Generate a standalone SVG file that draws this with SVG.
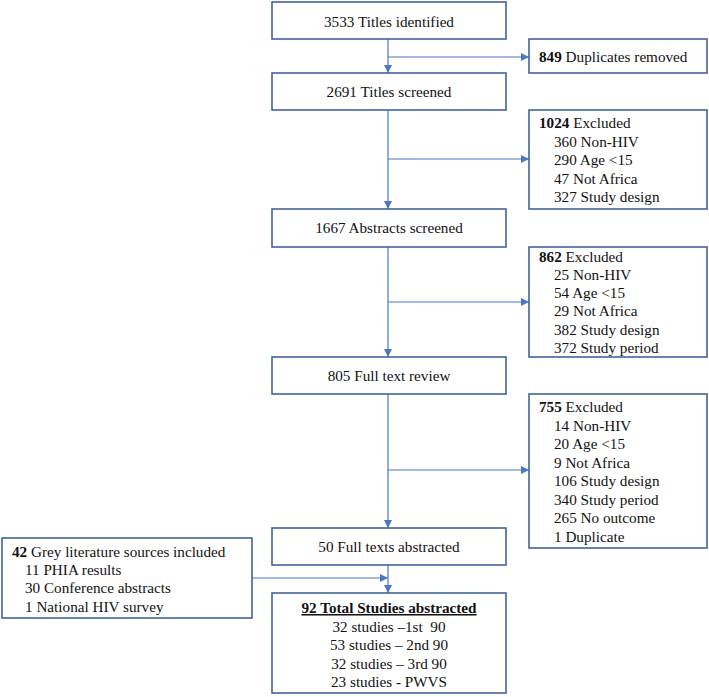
<svg xmlns="http://www.w3.org/2000/svg" width="709" height="697" viewBox="0 0 709 697" font-family="'Liberation Serif', 'DejaVu Serif', serif">
<style>
  .box { fill: #ffffff; stroke: #41639b; stroke-width: 1.6; }
  .t { font-family: 'Liberation Serif', 'DejaVu Serif', serif; font-size: 15.2px; fill: #111111; }
  .c { text-anchor: middle; }
  .b { font-weight: bold; }
  .conn { fill: none; stroke: #4a76c4; stroke-width: 1.2; }
</style>
<defs>
  <marker id="ah" viewBox="0 0 10 10" refX="10" refY="5" markerWidth="8" markerHeight="8" markerUnits="userSpaceOnUse" orient="auto">
    <path d="M0,0 L10,5 L0,10 z" fill="#4a76c4"/>
  </marker>
</defs>
<rect width="709" height="697" fill="#ffffff"/>

<g id="connectors">
  <path class="conn" d="M388,39 V73" marker-end="url(#ah)"/>
  <path class="conn" d="M388,57 H529" marker-end="url(#ah)"/>
  <path class="conn" d="M388,110 V209" marker-end="url(#ah)"/>
  <path class="conn" d="M388,159 H529" marker-end="url(#ah)"/>
  <path class="conn" d="M388,247 V357" marker-end="url(#ah)"/>
  <path class="conn" d="M388,302 H529" marker-end="url(#ah)"/>
  <path class="conn" d="M388,394 V528" marker-end="url(#ah)"/>
  <path class="conn" d="M388,470 H529" marker-end="url(#ah)"/>
  <path class="conn" d="M388,565 V593" marker-end="url(#ah)"/>
  <path class="conn" d="M252,578 H388" marker-end="url(#ah)"/>
</g>

<g id="n-identified">
  <rect class="box" x="272" y="2" width="234" height="37"/>
  <text class="t c" x="389" y="27">3533 Titles identified</text>
</g>
<g id="n-duplicates">
  <rect class="box" x="529" y="39" width="178" height="34"/>
  <text class="t" x="539" y="62"><tspan class="b">849</tspan> Duplicates removed</text>
</g>
<g id="n-titles">
  <rect class="box" x="272" y="73" width="234" height="37"/>
  <text class="t c" x="389" y="97">2691 Titles screened</text>
</g>
<g id="n-excl1">
  <rect class="box" x="529" y="110" width="178" height="99"/>
  <text class="t" x="539" y="128"><tspan class="b">1024</tspan> Excluded</text>
  <text class="t" x="554" y="146.5">360 Non-HIV</text>
  <text class="t" x="554" y="165">290 Age &lt;15</text>
  <text class="t" x="554" y="183.5">47 Not Africa</text>
  <text class="t" x="554" y="202">327 Study design</text>
</g>
<g id="n-abstracts">
  <rect class="box" x="272" y="209" width="234" height="38"/>
  <text class="t c" x="389" y="233">1667 Abstracts screened</text>
</g>
<g id="n-excl2">
  <rect class="box" x="529" y="247" width="178" height="110"/>
  <text class="t" x="539" y="261.5"><tspan class="b">862</tspan> Excluded</text>
  <text class="t" x="554" y="279.8">25 Non-HIV</text>
  <text class="t" x="554" y="298.1">54 Age &lt;15</text>
  <text class="t" x="554" y="316.4">29 Not Africa</text>
  <text class="t" x="554" y="334.7">382 Study design</text>
  <text class="t" x="554" y="353">372 Study period</text>
</g>
<g id="n-fulltext">
  <rect class="box" x="272" y="357" width="234" height="37"/>
  <text class="t c" x="389" y="381">805 Full text review</text>
</g>
<g id="n-excl3">
  <rect class="box" x="529" y="394" width="178" height="154"/>
  <text class="t" x="539" y="412"><tspan class="b">755</tspan> Excluded</text>
  <text class="t" x="554" y="430.6">14 Non-HIV</text>
  <text class="t" x="554" y="449.1">20 Age &lt;15</text>
  <text class="t" x="554" y="467.7">9 Not Africa</text>
  <text class="t" x="554" y="486.3">106 Study design</text>
  <text class="t" x="554" y="504.9">340 Study period</text>
  <text class="t" x="554" y="523.4">265 No outcome</text>
  <text class="t" x="554" y="542">1 Duplicate</text>
</g>
<g id="n-abstracted">
  <rect class="box" x="272" y="528" width="234" height="37"/>
  <text class="t c" x="389" y="552">50 Full texts abstracted</text>
</g>
<g id="n-grey">
  <rect class="box" x="2" y="538" width="250" height="80"/>
  <text class="t" x="12" y="557"><tspan class="b">42</tspan> Grey literature sources included</text>
  <text class="t" x="25" y="575">11 PHIA results</text>
  <text class="t" x="25" y="593">30 Conference abstracts</text>
  <text class="t" x="25" y="612">1 National HIV survey</text>
</g>
<g id="n-total">
  <rect class="box" x="272" y="593" width="234" height="100"/>
  <text class="t c b" x="389" y="613" text-decoration="underline">92 Total Studies abstracted</text>
  <text class="t c" x="389" y="631.5" xml:space="preserve">32 studies –1st  90</text>
  <text class="t c" x="389" y="650">53 studies – 2nd 90</text>
  <text class="t c" x="389" y="668.5">32 studies – 3rd 90</text>
  <text class="t c" x="389" y="687">23 studies - PWVS</text>
</g>
</svg>
